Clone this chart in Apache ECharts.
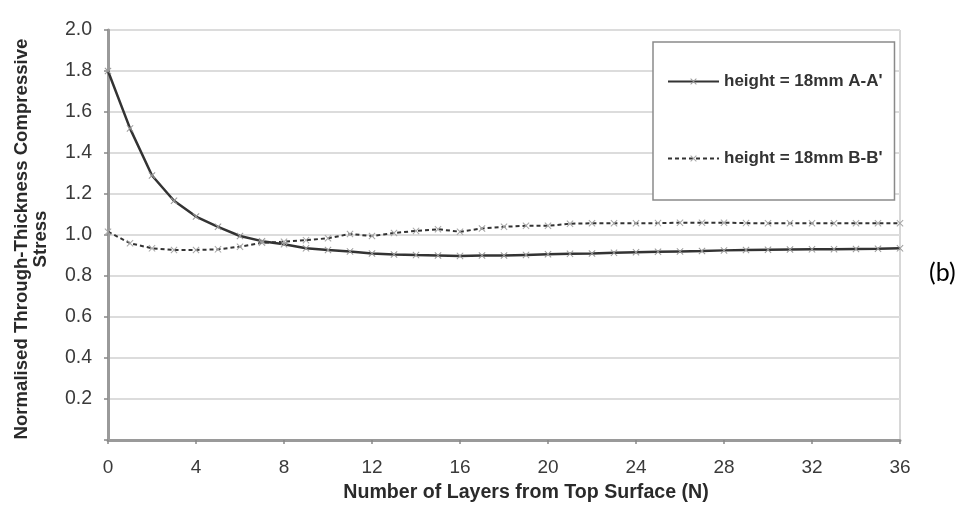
<!DOCTYPE html>
<html>
<head>
<meta charset="utf-8">
<script src="https://cdn.jsdelivr.net/npm/echarts@6/dist/echarts.min.js"></script>
<style>html,body{margin:0;padding:0;background:#fff}#c{width:976px;height:508px}</style>
</head>
<body>
<div id="c"></div>
<script>
var layers = [0,1,2,3,4,5,6,7,8,9,10,11,12,13,14,15,16,17,18,19,20,21,22,23,24,25,26,27,28,29,30,31,32,33,34,35,36];
var seriesNames = ["height = 18mm A-A'", "height = 18mm B-B'"];
var stressAA = [1.80,1.52,1.29,1.167,1.09,1.04,0.995,0.97,0.955,0.935,0.927,0.92,0.91,0.905,0.902,0.90,0.898,0.90,0.90,0.903,0.906,0.908,0.91,0.913,0.916,0.918,0.92,0.922,0.925,0.927,0.928,0.929,0.93,0.931,0.932,0.933,0.935];
var stressBB = [1.016,0.96,0.935,0.927,0.927,0.93,0.943,0.962,0.967,0.975,0.984,1.005,0.995,1.01,1.02,1.028,1.016,1.032,1.04,1.045,1.045,1.055,1.057,1.057,1.057,1.058,1.06,1.06,1.06,1.058,1.057,1.057,1.057,1.057,1.057,1.057,1.057];
var yTitle = "Normalised Through-Thickness Compressive\nStress";
var xTitle = "Number of Layers from Top Surface (N)";
var panelLabel = "(b)";

function pairs(xs, ys){ return xs.map(function(x,i){ return [x, ys[i]]; }); }
var xMark = 'path://M0,1L1,0L5,4L9,0L10,1L6,5L10,9L9,10L5,6L1,10L0,9L4,5Z';

var chart = echarts.init(document.getElementById('c'), null, {renderer:'canvas'});
chart.setOption({
  animation:false,
  backgroundColor:'#fff',
  grid:{left:108, right:76, top:30, bottom:68, show:true, borderColor:'#b0b0b0', borderWidth:1},
  xAxis:{type:'value', min:0, max:36, interval:4,
    axisLine:{show:true, onZero:false, lineStyle:{color:'#9a9a9a', width:3}},
    axisTick:{show:true, length:4, lineStyle:{color:'#888', width:1.5}},
    axisLabel:{margin:18, fontFamily:'Liberation Sans, Arial', fontSize:19, color:'#3a3a3a'},
    splitLine:{show:false}},
  yAxis:{type:'value', min:0, max:2, interval:0.2,
    axisLine:{show:true, lineStyle:{color:'#9a9a9a', width:3}},
    axisTick:{show:true, length:4, lineStyle:{color:'#888', width:1.5}},
    axisLabel:{margin:16, fontFamily:'Liberation Sans, Arial', fontSize:19.5, color:'#3a3a3a',
      formatter:function(v){ return v === 0 ? '' : v.toFixed(1); }},
    splitLine:{show:true, lineStyle:{color:'#dcdcdc', width:2}}},
  legend:{orient:'vertical', left:653, top:42,
    padding:[31,12,33,14], itemGap:60, itemWidth:51, itemHeight:8,
    borderColor:'#8a8a8a', borderWidth:1.5, backgroundColor:'#fff',
    textStyle:{fontFamily:'Liberation Sans, Arial', fontWeight:'bold', fontSize:17, color:'#333'},
    data:seriesNames},
  series:[
    {name:seriesNames[0], type:'line', data:pairs(layers, stressAA),
     symbol:xMark, symbolSize:7, showAllSymbol:true,
     lineStyle:{color:'#333', width:2.5, type:'solid'},
     itemStyle:{color:'#999'}},
    {name:seriesNames[1], type:'line', data:pairs(layers, stressBB),
     symbol:xMark, symbolSize:7, showAllSymbol:true,
     lineStyle:{color:'#333', width:2, type:[4,3]},
     itemStyle:{color:'#a5a5a5'}}
  ],
  graphic:[
    {type:'text', x:31, y:239, rotation:Math.PI/2,
     style:{text:yTitle, fontFamily:'Liberation Sans, Arial', fontWeight:'bold', fontSize:18.6, lineHeight:19,
       fill:'#2a2a2a', align:'center', verticalAlign:'middle'}},
    {type:'text', x:526, y:493,
     style:{text:xTitle, fontFamily:'Liberation Sans, Arial', fontWeight:'bold', fontSize:19.6,
       fill:'#2a2a2a', align:'center', verticalAlign:'middle'}},
    {type:'text', x:929, y:273,
     style:{text:panelLabel, fontFamily:'Lato, Noto Sans', fontSize:25,
       fill:'#000', align:'left', verticalAlign:'middle'}}
  ]
});
</script>
</body>
</html>
